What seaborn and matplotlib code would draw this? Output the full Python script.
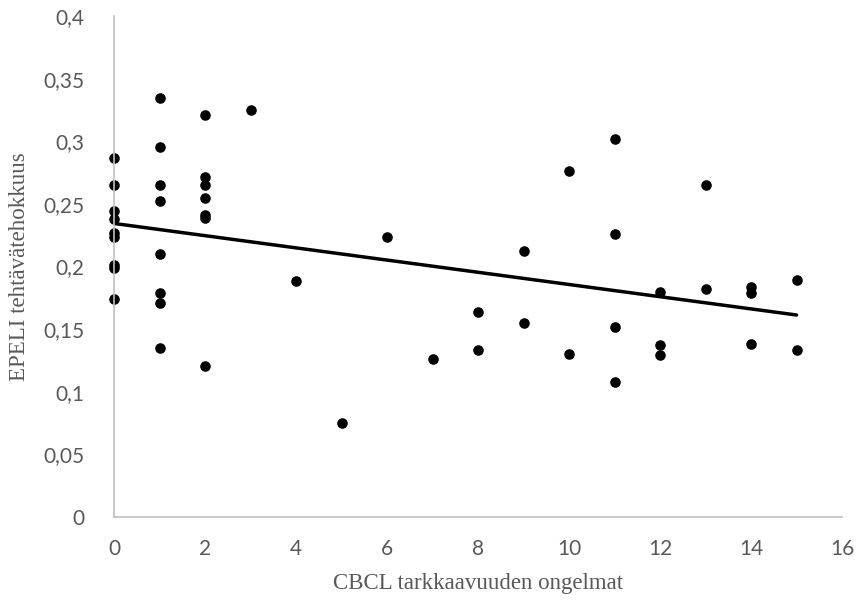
import matplotlib
matplotlib.use("Agg")
import matplotlib.pyplot as plt
import seaborn as sns
import pandas as pd
from matplotlib.ticker import FuncFormatter, MultipleLocator

# CBCL tarkkaavuuden ongelmat (x) vs EPELI tehtävätehokkuus (y)
cbcl = [0, 0, 0, 0, 0, 0, 0, 0, 0,
        1, 1, 1, 1, 1, 1, 1, 1,
        2, 2, 2, 2, 2, 2, 2,
        3, 4, 5, 6, 7, 8, 8, 9, 9, 10, 10,
        11, 11, 11, 11, 12, 12, 12, 13, 13, 14, 14, 14, 15, 15]
epeli = [0.2866, 0.2651, 0.2443, 0.2377, 0.2270, 0.2233, 0.2010, 0.1986, 0.1741,
         0.3348, 0.2952, 0.2651, 0.2526, 0.2097, 0.1791, 0.1711, 0.1349,
         0.3210, 0.2715, 0.2651, 0.2547, 0.2411, 0.2385, 0.1208,
         0.3252, 0.1884, 0.0750, 0.2236, 0.1261, 0.1634, 0.1333, 0.2126, 0.1549,
         0.2760, 0.1304,
         0.3015, 0.2257, 0.1517, 0.1078, 0.1796, 0.1371, 0.1291, 0.2651, 0.1818,
         0.1834, 0.1786, 0.1379, 0.1892, 0.1336]

df = pd.DataFrame({"x": cbcl, "y": epeli})

sns.set_style("white")
grey = "#bfbfbf"
tick_col = "#595959"

fig = plt.figure(figsize=(8.58, 6.01), dpi=100)
ax = fig.add_axes([0.1329, 0.1398, 0.8485, 0.8336])

sns.regplot(data=df, x="x", y="y", ax=ax, ci=None, truncate=True,
            scatter_kws={"s": 58, "color": "black", "linewidths": 0, "alpha": 1},
            line_kws={"color": "black", "linewidth": 2.5})

ax.set_xlim(0, 16)
ax.set_ylim(0, 0.4)
ax.xaxis.set_major_locator(MultipleLocator(2))
ax.yaxis.set_major_locator(MultipleLocator(0.05))
ax.yaxis.set_major_formatter(FuncFormatter(lambda v, p: f"{round(v, 2):g}".replace(".", ",")))

for s in ["top", "right"]:
    ax.spines[s].set_visible(False)
for s in ["left", "bottom"]:
    ax.spines[s].set_color(grey)
    ax.spines[s].set_linewidth(1.2)

ax.tick_params(axis="both", length=5, width=1.2, color=grey, labelcolor=tick_col,
               labelsize=15, direction="out")
ax.tick_params(axis="x", pad=11)
ax.tick_params(axis="y", pad=16)
for lab in ax.get_xticklabels() + ax.get_yticklabels():
    lab.set_fontfamily("Lato")

ax.set_xlabel("CBCL tarkkaavuuden ongelmat", fontfamily="Liberation Serif",
              fontsize=16.5, color=tick_col, labelpad=10)
ax.set_ylabel("EPELI tehtävätehokkuus", fontfamily="Liberation Serif",
              fontsize=16.5, color=tick_col, labelpad=10)
for c in ax.collections:
    c.set_clip_on(False)

fig.savefig("out.png", dpi=100)
